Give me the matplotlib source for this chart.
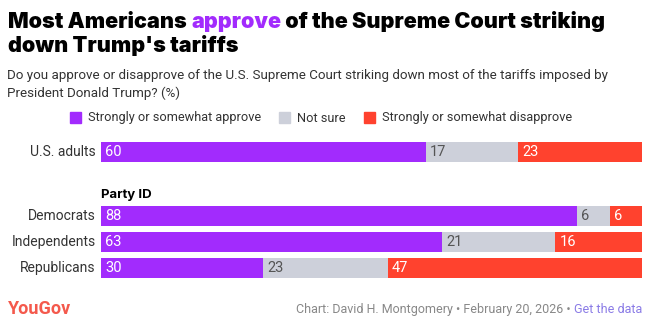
import matplotlib
matplotlib.use("Agg")
import matplotlib.pyplot as plt
from matplotlib.patches import Rectangle

groups = ["U.S. adults", "Democrats", "Independents", "Republicans"]
approve = [60, 88, 63, 30]
not_sure = [17, 6, 21, 23]
disapprove = [23, 6, 16, 47]
series_names = ["Strongly or somewhat approve", "Not sure", "Strongly or somewhat disapprove"]

PURPLE = "#a22bfd"
GREY = "#cdd0da"
RED = "#ff422e"
colors = [PURPLE, GREY, RED]
label_colors = ["white", "#555555", "white"]

W, H = 655, 322
fig = plt.figure(figsize=(W / 100, H / 100), dpi=100)
fig.patch.set_facecolor("white")

TITLE_FONT = ["Inter", "DejaVu Sans"]
BODY_FONT = ["Roboto", "DejaVu Sans"]


def px(x, y):
    return x / W, 1 - y / H


renderer = fig.canvas.get_renderer()


def runs(x, y, parts, **kw):
    # draw pieces of text one after the other on one line
    for s, c in parts:
        t = fig.text(*px(x, y), s, color=c, va="baseline", **kw)
        x += t.get_window_extent(renderer).width
    return x


# title
runs(8, 28, [("Most Americans ", "black"), ("approve", PURPLE),
             (" of the Supreme Court striking", "black")],
     fontsize=15.5, fontweight="black", family=TITLE_FONT)
runs(8, 52, [("down Trump's tariffs", "black")],
     fontsize=15.5, fontweight="black", family=TITLE_FONT)

# subtitle
fig.text(*px(7, 79), "Do you approve or disapprove of the U.S. Supreme Court striking down most of the tariffs imposed by",
         fontsize=9.6, color="#333333", family=BODY_FONT, va="baseline")
fig.text(*px(7, 97), "President Donald Trump? (%)",
         fontsize=9.6, color="#333333", family=BODY_FONT, va="baseline")

# legend
lx = 70
for name, c in zip(series_names, colors):
    fig.patches.append(Rectangle(px(lx, 122.5), 11 / W, 11 / H, color=c,
                                 transform=fig.transFigure, figure=fig))
    lx = runs(lx + 18, 121.5, [(name, "#333333")], fontsize=9.2, family=BODY_FONT)
    lx += 18

# bars
ypos = [0, 2.5, 3.5, 4.5]
ax = fig.add_axes([101 / W, 1 - 280.85 / H, (642 - 101) / W, (280.85 - 139.15) / H])
left = [0] * len(groups)
for vals, c, lc in zip([approve, not_sure, disapprove], colors, label_colors):
    ax.barh(ypos, vals, left=left, height=0.78, color=c, linewidth=0)
    for y, v, l in zip(ypos, vals, left):
        ax.text(l + 0.8, y, str(v), color=lc, fontsize=10.5, va="center",
                ha="left", family=BODY_FONT)
    left = [a + b for a, b in zip(left, vals)]

ax.set_xlim(0, 100)
ax.set_ylim(5.0, -0.5)
ax.axis("off")
for y, g in zip(ypos, groups):
    ax.text(-1, y, g, ha="right", va="center", fontsize=10, color="#333333",
            family=BODY_FONT)
ax.text(0, 1.65, "Party ID", ha="left", va="center", fontsize=9.5,
        fontweight="bold", color="black", family=TITLE_FONT)

# footer
fig.text(*px(8, 314), "YouGov", fontsize=13, fontweight="semibold", color="#f4594c",
         family=BODY_FONT, va="baseline")
t = fig.text(*px(642, 313), "Get the data", fontsize=9, color="#8a7be6",
             family=BODY_FONT, ha="right", va="baseline")
x0 = t.get_window_extent(renderer).x0
fig.text(x0 / W, 1 - 313 / H, "Chart: David H. Montgomery \u2022 February 20, 2026 \u2022 ",
         fontsize=9, color="#888888", family=BODY_FONT, ha="right", va="baseline")

fig.savefig("out.png", dpi=100)
